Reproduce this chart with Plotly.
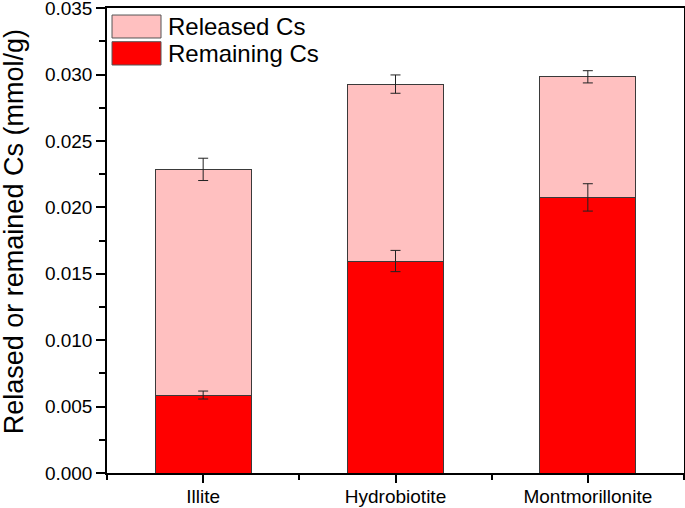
import plotly.graph_objects as go

categories = ["Illite", "Hydrobiotite", "Montmorillonite"]
remaining = [0.00587, 0.01596, 0.02075]
remaining_err = [0.0003, 0.0008, 0.00103]
released = [0.01699, 0.01332, 0.00908]
total_err = [0.00084, 0.00069, 0.00046]
series_names = ["Released Cs", "Remaining Cs"]
y_ticks = [0.000, 0.005, 0.010, 0.015, 0.020, 0.025, 0.030, 0.035]
y_title = "Relased or remained Cs (mmol/g)"

xpos = list(range(len(categories)))
totals = [a + b for a, b in zip(remaining, released)]

FONT = "Arial, Liberation Sans, sans-serif"
C_REL = "#FFC0C0"
C_REM = "#FF0000"
EDGE = "#3a3a3a"

fig = go.Figure()
fig.add_trace(go.Bar(x=xpos, y=remaining, name=series_names[1], width=0.5,
                     marker=dict(color=C_REM, line=dict(color=EDGE, width=1))))
fig.add_trace(go.Bar(x=xpos, y=released, name=series_names[0], width=0.5,
                     marker=dict(color=C_REL, line=dict(color=EDGE, width=1))))
# error bars drawn above bars
fig.add_trace(go.Scatter(x=xpos, y=remaining, mode="markers",
                         marker=dict(size=1, opacity=0),
                         error_y=dict(type="data", array=remaining_err, visible=True,
                                      color="#222222", thickness=1, width=5),
                         hoverinfo="skip"))
fig.add_trace(go.Scatter(x=xpos, y=totals, mode="markers",
                         marker=dict(size=1, opacity=0),
                         error_y=dict(type="data", array=total_err, visible=True,
                                      color="#222222", thickness=1, width=5),
                         hoverinfo="skip"))

# legend drawn manually to match the large swatches
shapes = []
annotations = []
legend_rows = [(series_names[0], C_REL, 0.9355, 0.9849, 0.9602),
               (series_names[1], C_REM, 0.8774, 0.9275, 0.9022)]
for name, col, y0, y1, yc in legend_rows:
    shapes.append(dict(type="rect", xref="paper", yref="paper",
                       x0=0.0087, x1=0.0936, y0=y0, y1=y1,
                       fillcolor=col, line=dict(color="#555555", width=1)))
    annotations.append(dict(xref="paper", yref="paper", x=0.1015, y=yc,
                            text=name, showarrow=False, xanchor="left",
                            yanchor="middle",
                            font=dict(family=FONT, size=24, color="black")))
annotations.append(dict(xref="paper", yref="paper", x=-0.161, y=0.518,
                        text=y_title, showarrow=False, textangle=-90,
                        xanchor="center", yanchor="middle",
                        font=dict(family=FONT, size=27, color="black")))

fig.update_layout(
    barmode="stack",
    width=685, height=508,
    margin=dict(l=107, r=1, t=8, b=35),
    plot_bgcolor="white", paper_bgcolor="white",
    showlegend=False,
    shapes=shapes,
    annotations=annotations,
    font=dict(family=FONT, color="black"),
)
fig.update_xaxes(
    range=[-0.5, 2.5], automargin=False, ticklabeloverflow="allow",
    tickvals=xpos, ticktext=categories, ticklabelstandoff=-3,
    ticks="outside", ticklen=8, tickwidth=1.5, tickcolor="black",
    showline=True, linecolor="black", linewidth=1.5, mirror=True,
    showgrid=False, zeroline=False,
    tickfont=dict(family=FONT, size=19, color="black"),
    minor=dict(tickvals=[-0.5, 0.5, 1.5, 2.5], ticks="outside", ticklen=5,
               tickwidth=1.5, tickcolor="black", showgrid=False),
)
fig.update_yaxes(
    range=[0, 0.03501], automargin=False, ticklabeloverflow="allow",
    tickvals=y_ticks, tickformat=".3f",
    ticks="outside", ticklen=9, tickwidth=1.5, tickcolor="black",
    showline=True, linecolor="black", linewidth=1.5, mirror=True,
    showgrid=False, zeroline=False,
    tickfont=dict(family=FONT, size=19, color="black"),
    minor=dict(dtick=0.0025, ticks="outside", ticklen=6, tickwidth=1.5,
               tickcolor="black", showgrid=False),
)

fig.write_html(
    "out.html",
    config={"displayModeBar": False},
    post_script=("document.body.style.margin='0';"
                 "document.body.style.overflow='hidden';"
                 "document.documentElement.style.overflow='hidden';"),
)
